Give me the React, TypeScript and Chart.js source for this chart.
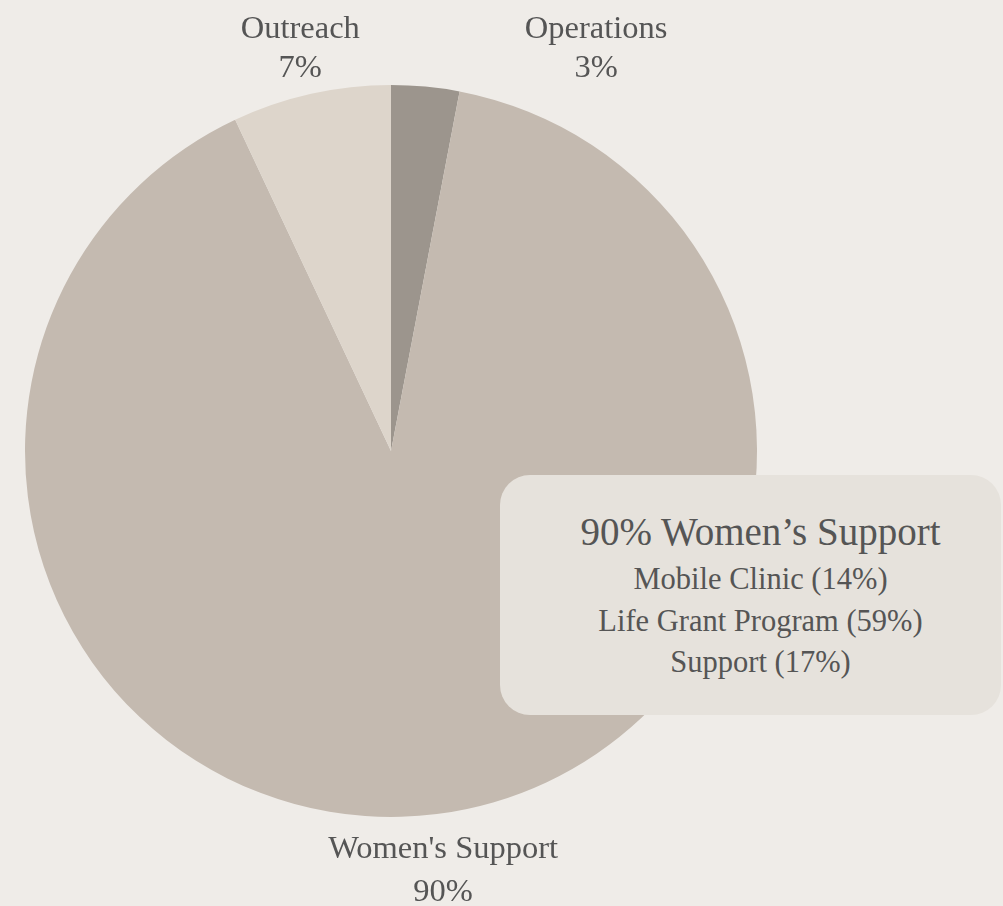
import React, { useEffect, useRef } from "react";
import { Chart, registerables } from "chart.js";

Chart.register(...registerables);

const categories = ["Operations", "Women's Support", "Outreach"];
const values = [3, 90, 7];
const sliceColors = ["#9c958d", "#c4bab0", "#ddd5cb"];

const calloutTitle = "90% Women\u2019s Support";
const calloutLines = ["Mobile Clinic (14%)", "Life Grant Program (59%)", "Support (17%)"];

const BG = "#efece8";
const TEXT = "#555555";

const outLabelsPlugin = {
  id: "outLabels",
  afterDatasetsDraw(chart: any) {
    const { ctx, chartArea } = chart;
    const meta = chart.getDatasetMeta(0);
    const data = chart.data.datasets[0].data as number[];
    const total = data.reduce((a, b) => a + b, 0);
    ctx.save();
    ctx.fillStyle = TEXT;
    ctx.font = '32.5px "Liberation Serif", serif';
    ctx.textAlign = "center";
    ctx.textBaseline = "alphabetic";
    meta.data.forEach((arc: any, i: number) => {
      const p = arc.getProps(["x", "y", "startAngle", "endAngle", "outerRadius"], true);
      const mid = (p.startAngle + p.endAngle) / 2;
      const r = p.outerRadius + 50;
      let x = p.x + Math.cos(mid) * r;
      const upper = Math.sin(mid) < 0;
      // push the small label on the top right away from its neighbour
      if (upper && Math.cos(mid) > 0) x += 166;
      const pct = Math.round((data[i] / total) * 100) + "%";
      if (upper) {
        ctx.fillText(chart.data.labels[i], x, chartArea.top - 47);
        ctx.fillText(pct, x, chartArea.top - 8);
      } else {
        ctx.fillText(chart.data.labels[i], x, chartArea.bottom + 41);
        ctx.fillText(pct, x, chartArea.bottom + 84);
      }
    });
    ctx.restore();
  },
};

export default function App() {
  const canvasRef = useRef<HTMLCanvasElement | null>(null);

  useEffect(() => {
    document.body.style.margin = "0";
    document.body.style.background = BG;
    const canvas = canvasRef.current;
    if (!canvas) return;
    const chart = new Chart(canvas, {
      type: "pie",
      data: {
        labels: categories,
        datasets: [
          {
            data: values,
            backgroundColor: sliceColors,
            borderWidth: 0,
          },
        ],
      },
      options: {
        responsive: false,
        animation: false,
        layout: { padding: { left: 25, right: 246, top: 85, bottom: 89 } },
        plugins: {
          legend: { display: false },
          tooltip: { enabled: false },
        },
      },
      plugins: [outLabelsPlugin],
    });
    return () => chart.destroy();
  }, []);

  return (
    <div
      style={{
        position: "relative",
        width: 1003,
        height: 906,
        background: BG,
        overflow: "hidden",
        fontFamily: '"Liberation Serif", serif',
      }}
    >
      <canvas ref={canvasRef} width={1003} height={906} style={{ position: "absolute", left: 0, top: 0 }} />
      <div
        style={{
          position: "absolute",
          left: 500,
          top: 475,
          width: 501,
          height: 240,
          boxSizing: "border-box",
          paddingLeft: 20,
          paddingTop: 35,
          borderRadius: 30,
          background: "#e6e2dc",
          color: TEXT,
          textAlign: "center",
        }}
      >
        <div style={{ fontSize: 39, lineHeight: "44px" }}>{calloutTitle}</div>
        <div style={{ marginTop: 5 }}>
          {calloutLines.map((t) => (
            <div key={t} style={{ fontSize: 30.5, lineHeight: "41.5px" }}>
              {t}
            </div>
          ))}
        </div>
      </div>
    </div>
  );
}
